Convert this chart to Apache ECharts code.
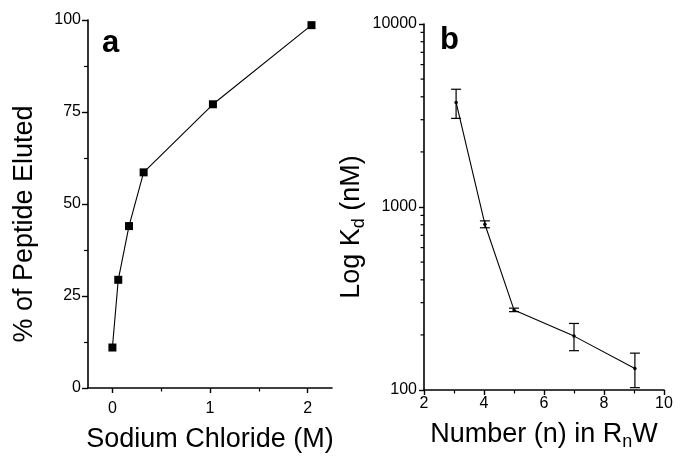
<!DOCTYPE html>
<html><head><meta charset="utf-8">
<script src="https://cdn.jsdelivr.net/npm/echarts@6/dist/echarts.min.js"></script>
<style>html,body{margin:0;padding:0;background:#fff}#c{width:688px;height:459px}</style>
</head><body><div id="c"></div>
<script>
// Panel a
const naclM = [0, 0.06, 0.17, 0.32, 1.03, 2.04];
const pctEluted = [11.0, 29.4, 44.0, 58.6, 77.1, 98.6];
const naclTickValues = [0, 1, 2];
const naclMinorTicks = [0.5, 1.5];
// Panel b
const nArg = [3.07, 4.03, 5.0, 7.0, 9.03];
const kd = [3730, 805, 274, 197, 131];
const kdLow = [3050, 770, 268, 164, 103];
const kdHigh = [4400, 840, 280, 231, 159];
const kdMinorTicks = [200, 300, 400, 500, 600, 700, 800, 900, 2000, 3000, 4000, 5000, 6000, 7000, 8000, 9000];

const FONT = "'Liberation Sans', Arial, sans-serif";
const black = '#000';
const axisLine = {show: true, onZero: false, lineStyle: {color: black, width: 1.6}};
const tickLabel = {color: black, fontSize: 16, fontFamily: FONT};
const nameStyle = {color: black, fontSize: 27, fontFamily: FONT};

const chart = echarts.init(document.getElementById('c'), null, {renderer: 'canvas'});
chart.setOption({
  animation: false,
  backgroundColor: '#fff',
  grid: [
    {left: 88, top: 20, width: 244, height: 368},
    {left: 424, top: 24, width: 240, height: 366}
  ],
  xAxis: [
    {
      gridIndex: 0, type: 'value', min: -0.25, max: 2.25, position: 'bottom',
      axisLine: axisLine,
      axisTick: {show: true, length: 5, customValues: naclTickValues, lineStyle: {color: black, width: 1.4}},
      axisLabel: Object.assign({margin: 13, customValues: naclTickValues}, tickLabel),
      splitLine: {show: false},
      name: 'Sodium Chloride (M)', nameLocation: 'middle', nameGap: 38,
      nameTextStyle: nameStyle
    },
    {
      gridIndex: 0, type: 'value', min: -0.25, max: 2.25, position: 'bottom',
      axisLine: {show: false, onZero: false},
      axisTick: {show: true, length: 3.5, customValues: naclMinorTicks, lineStyle: {color: black, width: 1.2}},
      axisLabel: {show: false},
      splitLine: {show: false}
    },
    {
      gridIndex: 1, type: 'value', min: 2, max: 10, interval: 2, position: 'bottom',
      axisLine: axisLine,
      axisTick: {show: true, length: 5, lineStyle: {color: black, width: 1.4}},
      minorTick: {show: true, splitNumber: 2, length: 3.5, lineStyle: {color: black, width: 1.2}},
      axisLabel: Object.assign({margin: 6}, tickLabel),
      splitLine: {show: false},
      name: 'Number (n) in R{sub|n}W', nameLocation: 'middle', nameGap: 29,
      nameTextStyle: Object.assign({rich: {sub: {fontSize: 18, fontFamily: FONT, color: black, padding: [14, 0, 0, 0]}}}, nameStyle)
    }
  ],
  yAxis: [
    {
      gridIndex: 0, type: 'value', min: 0, max: 100, interval: 25,
      axisLine: axisLine,
      axisTick: {show: true, length: 6, lineStyle: {color: black, width: 1.4}},
      minorTick: {show: true, splitNumber: 2, length: 4, lineStyle: {color: black, width: 1.2}},
      axisLabel: Object.assign({margin: 7}, tickLabel),
      splitLine: {show: false},
      name: '% of Peptide Eluted', nameLocation: 'middle', nameGap: 50,
      nameTextStyle: Object.assign({padding: [0, 40, 0, 0]}, nameStyle)
    },
    {
      gridIndex: 1, type: 'log', logBase: 10, min: 100, max: 10000,
      axisLine: axisLine,
      axisTick: {show: true, length: 5, lineStyle: {color: black, width: 1.4}},
      axisLabel: Object.assign({margin: 7, formatter: v => String(Math.round(v))}, tickLabel),
      splitLine: {show: false},
      name: 'Log K{sub|d} (nM)', nameLocation: 'middle', nameGap: 56,
      nameTextStyle: Object.assign({padding: [0, 40, 0, 0], rich: {sub: {fontSize: 18, fontFamily: FONT, color: black, padding: [14, 0, 0, 0]}}}, nameStyle)
    }
  ],
  graphic: [
    {type: 'text', left: 102, top: 28, style: {text: 'a', font: 'bold 31px ' + FONT, fill: black}},
    {type: 'text', left: 440, top: 25, style: {text: 'b', font: 'bold 31px ' + FONT, fill: black}}
  ],
  series: [
    {
      type: 'line', xAxisIndex: 0, yAxisIndex: 0,
      data: naclM.map((x, i) => [x, pctEluted[i]]),
      symbol: 'rect', symbolSize: 8,
      itemStyle: {color: black},
      lineStyle: {color: black, width: 1.1},
      clip: false
    },
    {
      type: 'line', xAxisIndex: 2, yAxisIndex: 1,
      data: nArg.map((x, i) => [x, kd[i]]),
      symbol: 'circle', symbolSize: 3.5,
      itemStyle: {color: black},
      lineStyle: {color: black, width: 1.1},
      clip: false
    },
    {
      type: 'custom', xAxisIndex: 2, yAxisIndex: 1,
      data: nArg.map((x, i) => [x, kdLow[i], kdHigh[i]]),
      encode: {x: 0, y: [1, 2]},
      clip: false,
      renderItem: function (params, api) {
        const x = api.value(0);
        const pLo = api.coord([x, api.value(1)]);
        const pHi = api.coord([x, api.value(2)]);
        const w = 5;
        const st = {stroke: black, lineWidth: 1.2};
        return {type: 'group', children: [
          {type: 'line', shape: {x1: pLo[0], y1: pLo[1], x2: pHi[0], y2: pHi[1]}, style: st},
          {type: 'line', shape: {x1: pLo[0] - w, y1: pLo[1], x2: pLo[0] + w, y2: pLo[1]}, style: st},
          {type: 'line', shape: {x1: pHi[0] - w, y1: pHi[1], x2: pHi[0] + w, y2: pHi[1]}, style: st}
        ]};
      }
    },
    {
      type: 'custom', xAxisIndex: 2, yAxisIndex: 1,
      data: [[5, 1000]],
      encode: {x: 0, y: 1},
      clip: false, silent: true, z: 10,
      renderItem: function (params, api) {
        const children = kdMinorTicks.map(function (v) {
          const p = api.coord([2, v]);
          return {type: 'line', shape: {x1: p[0] - 3.5, y1: p[1], x2: p[0], y2: p[1]}, style: {stroke: black, lineWidth: 1.2}};
        });
        return {type: 'group', children: children};
      }
    }
  ]
});
</script>
</body></html>
